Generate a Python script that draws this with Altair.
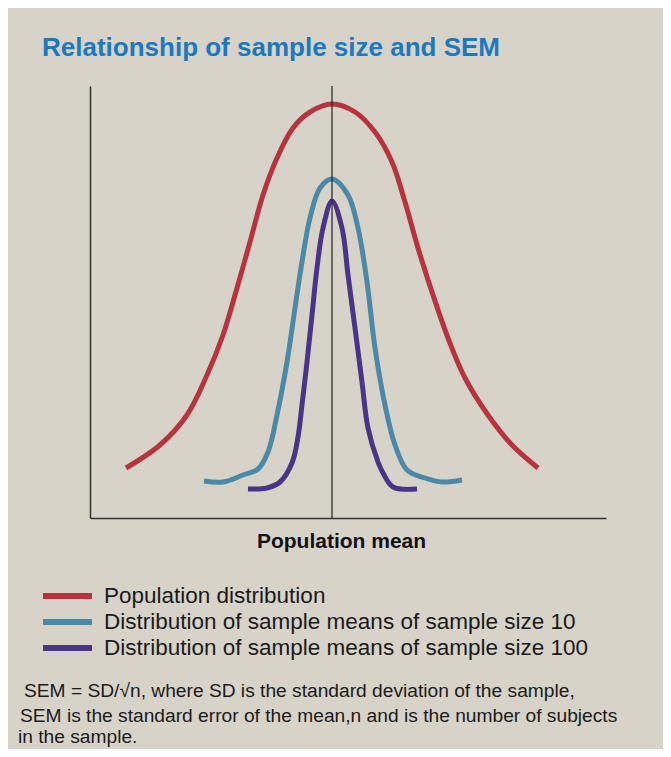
import altair as alt
import pandas as pd

# ---------------- data ----------------
series_names = [
    "Population distribution",
    "Distribution of sample means of sample size 10",
    "Distribution of sample means of sample size 100",
]
series_colors = ["#b7343f", "#4b89a7", "#4a3487"]

pop_x = [-2.06, -1.72, -1.45, -1.25, -1.09, -0.95, -0.82, -0.69, -0.55, -0.39, -0.22, 0.00,
         0.23, 0.43, 0.60, 0.73, 0.86, 1.00, 1.16, 1.33, 1.56, 1.80, 2.06]
pop_y = [0.50, 0.73, 1.03, 1.43, 1.83, 2.30, 2.76, 3.23, 3.60, 3.90, 4.06, 4.14,
         4.06, 3.86, 3.56, 3.16, 2.70, 2.26, 1.80, 1.40, 1.03, 0.73, 0.50]

n10_x = [-1.28, -1.09, -0.89, -0.74, -0.64, -0.55, -0.45, -0.37, -0.30, -0.22, -0.12, 0.00,
         0.16, 0.26, 0.35, 0.43, 0.53, 0.63, 0.75, 0.93, 1.10, 1.30]
n10_y = [0.37, 0.36, 0.43, 0.49, 0.66, 1.03, 1.56, 2.10, 2.56, 3.00, 3.30, 3.39,
         3.23, 2.90, 2.36, 1.70, 1.13, 0.73, 0.48, 0.40, 0.36, 0.38]

n100_x = [-0.84, -0.65, -0.52, -0.40, -0.34, -0.30, -0.25, -0.20, -0.15, -0.09, 0.00,
          0.10, 0.16, 0.23, 0.30, 0.36, 0.46, 0.51, 0.61, 0.85]
n100_y = [0.29, 0.30, 0.36, 0.55, 0.81, 1.13, 1.56, 2.03, 2.50, 2.90, 3.17,
          2.90, 2.43, 1.90, 1.36, 0.90, 0.56, 0.45, 0.31, 0.29]

mean_x = [0.0]

title_text = "Relationship of sample size and SEM"
x_title = "Population mean"
note_lines = [
    "SEM = SD/\u221an, where SD is the standard deviation of the sample,",
    "SEM is the standard error of the mean,n and is the number of subjects",
    "in the sample.",
]

# ---------------- tables ----------------
rows = []
for name, xs, ys in zip(series_names, [pop_x, n10_x, n100_x], [pop_y, n10_y, n100_y]):
    for i, (a, b) in enumerate(zip(xs, ys)):
        rows.append({"series": name, "x": a, "y": b, "i": i})
df = pd.DataFrame(rows)

FONT = "Liberation Sans"
x_scale = alt.Scale(domain=[-2.42, 2.74], nice=False, zero=False)
y_scale = alt.Scale(domain=[0, 4.32], nice=False, zero=False)

lines = alt.Chart(df).mark_line(strokeWidth=5, interpolate="catmull-rom").encode(
    x=alt.X("x:Q", scale=x_scale,
            axis=alt.Axis(title=x_title, ticks=False, labels=False, grid=False,
                          domainColor="#333333", domainWidth=1.5,
                          titleFont=FONT, titleFontSize=21, titleFontWeight="bold",
                          titleColor="#111111", titlePadding=12, titleX=251,
                          titleAlign="center")),
    y=alt.Y("y:Q", scale=y_scale,
            axis=alt.Axis(title=None, ticks=False, labels=False, grid=False,
                          domainColor="#333333", domainWidth=1.5)),
    color=alt.Color("series:N",
                    scale=alt.Scale(domain=series_names, range=series_colors),
                    legend=alt.Legend(title=None, orient="none", legendX=-50, legendY=499,
                                      symbolType="stroke", symbolSize=2401,
                                      symbolStrokeWidth=6, clipHeight=22, rowPadding=3,
                                      labelFont=FONT, labelFontSize=22.5,
                                      labelColor="#1a1a1a", labelOffset=9,
                                      labelLimit=700, padding=0)),
    order="i:Q",
)

mean_rule = alt.Chart(pd.DataFrame({"mean": mean_x})).mark_rule(
    color="#222222", strokeWidth=1.2
).encode(x=alt.X("mean:Q", scale=x_scale))

note_pos = [(-66, 605), (-70, 630), (-72, 651)]
notes = []
for line, (px, py) in zip(note_lines, note_pos):
    notes.append(
        alt.Chart(pd.DataFrame({"t": [line]})).mark_text(
            align="left", baseline="middle", font=FONT, fontSize=19.2, color="#1a1a1a"
        ).encode(x=alt.value(px), y=alt.value(py), text="t:N")
    )

chart = alt.layer(lines, mean_rule, *notes).properties(
    width=516,
    height=432,
    autosize=alt.AutoSizeParams(type="none"),
    padding={"left": 82, "top": 78, "right": 57, "bottom": 231},
    title=alt.TitleParams(text=title_text, anchor="start", frame="group", dx=-48,
                          offset=3, baseline="alphabetic", font=FONT, fontSize=26,
                          fontWeight="bold", color="#1b79c0"),
).configure(
    background="#d8d3c9",
).configure_view(stroke=None)

chart.save("out.html", embed_options={"renderer": "svg", "actions": False})
